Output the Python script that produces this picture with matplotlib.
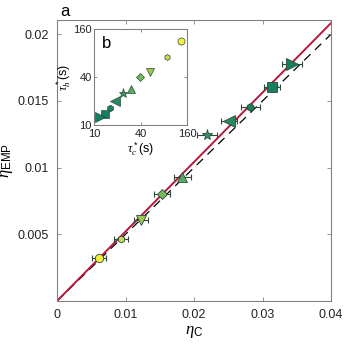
import matplotlib
matplotlib.use("Agg")
import matplotlib.pyplot as plt
import numpy as np

plt.rcParams['font.family'] = ['Liberation Sans', 'DejaVu Sans']
plt.rcParams['mathtext.fontset'] = 'custom'
plt.rcParams['mathtext.it'] = 'Liberation Serif:italic'
plt.rcParams['mathtext.rm'] = 'Liberation Sans'

# Main panel data
eta_c = [0.0061, 0.0093, 0.0123, 0.0153, 0.0183, 0.0219, 0.0251, 0.0282, 0.0314, 0.0343]
eta_emp = [0.0032, 0.00465, 0.0061, 0.0080, 0.0093, 0.01245, 0.0135, 0.01455, 0.01605, 0.0178]
eta_c_err = [0.0010, 0.0010, 0.0010, 0.0012, 0.0012, 0.0014, 0.0012, 0.0014, 0.0012, 0.0014]
markers = ['o', 'h', 'v', 'D', '^', '*', '<', 'h', 's', '>']
sizes = [6, 5, 7, 5, 7, 8, 8, 5.5, 6.5, 8]
colors = ['#f4f03a', '#c9dc4e', '#9cc850', '#74b95a', '#55ab5e', '#2f945f',
          '#238a62', '#1c7f5e', '#197d62', '#15805f']

# Inset data
tau_c = [134, 88, 53, 39.4, 30.1, 23.7, 18.7, 16.1, 13.9, 12.0]
tau_h = [113, 71, 46, 40, 28.3, 25.2, 20, 16.3, 13.7, 12.6]

fit_slope = 0.521
carnot_half = 0.5

fig = plt.figure(figsize=(3.47, 3.47), dpi=100)
ax = fig.add_axes([57/347, (347-301)/347, (331-57)/347, (301-20)/347])

edge = '#2e4a3a'
gray = '#808080'

xx = np.array([0, 0.04])
ax.plot(xx, carnot_half * xx, color='k', lw=0.9, dashes=(7, 5), zorder=1)
ax.plot(xx, fit_slope * xx, color='#b5183a', lw=1.4, zorder=2)

for i in range(len(eta_c)):
    ax.errorbar(eta_c[i], eta_emp[i], xerr=eta_c_err[i], fmt='none',
                ecolor=edge, elinewidth=0.8, capsize=2, capthick=0.8, zorder=3)
    ax.plot(eta_c[i], eta_emp[i], marker=markers[i], ms=sizes[i], color=colors[i],
            mec=edge, mew=0.6, ls='none', zorder=4)

ax.set_xlim(0, 0.04)
ax.set_ylim(0, 0.02107)
ax.set_xticks([0, 0.01, 0.02, 0.03, 0.04])
ax.set_xticklabels(['0', '0.01', '0.02', '0.03', '0.04'])
ax.set_yticks([0.005, 0.01, 0.015, 0.02])
ax.set_yticklabels(['0.005', '0.01', '0.015', '0.02'])
ax.tick_params(direction='in', length=3, width=0.6, labelsize=9, colors='#222222',
               top=True, right=True, pad=6)
ax.tick_params(axis='both', color=gray)
for s in ax.spines.values():
    s.set_color(gray)
    s.set_linewidth(0.8)
ax.set_xlabel(r'$\eta_{\mathrm{C}}$', fontsize=12, labelpad=2)
ax.set_ylabel(r'$\eta_{\mathrm{EMP}}$', fontsize=12, labelpad=2)
fig.text(60/347, 1 - 11/347, 'a', fontsize=12, va='center', ha='left')

# Inset
axi = fig.add_axes([94/347, (347-125)/347, (187-94)/347, (125-29)/347])
for i in range(len(tau_c)):
    axi.plot(tau_c[i], tau_h[i], marker=markers[i], ms=sizes[i]*0.85, color=colors[i],
             mec=edge, mew=0.5, ls='none')
axi.set_xscale('log')
axi.set_yscale('log')
axi.set_xlim(10, 160)
axi.set_ylim(10, 160)
axi.set_xticks([10, 40, 160])
axi.set_xticklabels(['10', '40', '160'])
axi.set_yticks([10, 40, 160])
axi.set_yticklabels(['10', '40', '160'])
axi.minorticks_off()
axi.tick_params(direction='in', length=2.5, width=0.6, labelsize=8, colors='#222222',
                top=True, right=True, pad=1.5)
axi.tick_params(axis='x', pad=3)
axi.tick_params(axis='both', color=gray)
for s in axi.spines.values():
    s.set_color(gray)
    s.set_linewidth(0.8)
axi.set_xlabel(r'$\tau_c^*$(s)', fontsize=9, labelpad=1)
axi.set_ylabel(r'$\tau_h^*$(s)', fontsize=9, labelpad=0)
axi.text(0.08, 0.93, 'b', transform=axi.transAxes, fontsize=12, va='top', ha='left')

fig.savefig('out.png', dpi=100)
